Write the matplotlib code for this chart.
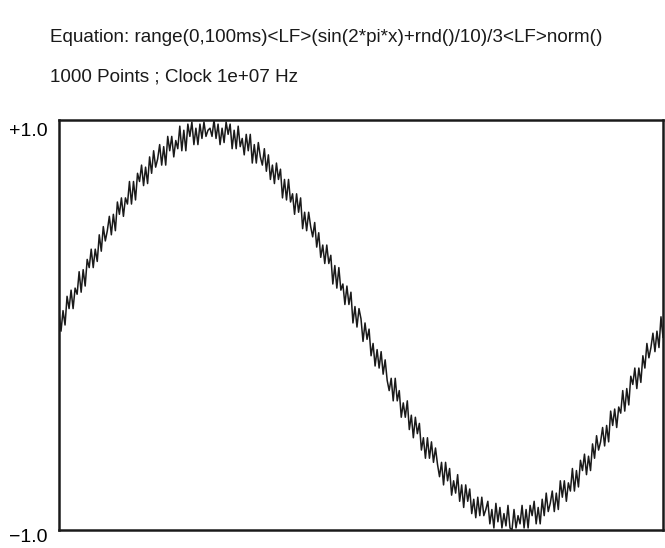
import numpy as np
import matplotlib
matplotlib.use("Agg")
import matplotlib.pyplot as plt
from matplotlib.transforms import ScaledTranslation

# text above the plot
equation = "Equation: range(0,100ms)<LF>(sin(2*pi*x)+rnd()/10)/3<LF>norm()"
info = "1000 Points ; Clock 1e+07 Hz"
ytick_vals = [-1.0, 1.0]
ytick_labels = ["\u22121.0", "+1.0"]

# waveform, one quarter of the period per list
quarter1 = [.06, -.03, .07, .00, .14, .08, .17, .08, .18, .15,
            .26, .16, .27, .19, .32, .28, .37, .28, .37, .31,
            .44, .36, .48, .41, .46, .53, .44, .54, .46, .60,
            .54, .62, .53, .62, .59, .70, .59, .70, .61, .74,
            .70, .78, .68, .77, .69, .82, .74, .85, .77, .81,
            .88, .78, .87, .78, .92, .85, .92, .82, .90, .86,
            .97, .85, .95, .85, .98, .92, .99, .88, .96, .88,
            .98, .91, .99, .92, .95]
quarter2 = [.96, .92, 1.00, .91, .98, .88, .96, .89, .99, .93,
            .98, .86, .95, .86, .97, .87, .91, .83, .93, .85,
            .93, .79, .88, .79, .89, .82, .78, .86, .75, .83,
            .71, .78, .69, .79, .71, .76, .62, .71, .61, .71,
            .60, .64, .54, .64, .55, .62, .47, .55, .46, .55,
            .48, .43, .50, .38, .45, .33, .39, .30, .39, .30,
            .34, .20, .29, .18, .28, .17, .20, .10, .19, .10,
            .16, .01, .09, -.01, .08]
quarter3 = [.03, -.08, .01, -.07, -.02, -.15, -.09, -.20, -.12, -.21,
            -.13, -.24, -.17, -.27, -.32, -.26, -.37, -.26, -.37, -.32,
            -.45, -.38, -.45, -.37, -.51, -.44, -.55, -.45, -.53, -.48,
            -.61, -.55, -.65, -.55, -.65, -.57, -.67, -.60, -.68, -.74,
            -.67, -.78, -.67, -.76, -.70, -.83, -.76, -.82, -.73, -.86,
            -.78, -.89, -.78, -.86, -.80, -.92, -.85, -.94, -.84, -.93,
            -.84, -.93, -.90, -.86, -.97, -.90, -.99, -.87, -.96, -.89,
            -.99, -.92, -.98, -.88, -.99]
quarter4 = [-1.00, -.90, -.99, -.93, -.97, -.88, -.99, -.90, -.99, -.88,
            -.93, -.86, -.97, -.89, -.97, -.85, -.93, -.82, -.91, -.87,
            -.81, -.91, -.82, -.90, -.76, -.84, -.76, -.86, -.77, -.81,
            -.70, -.81, -.71, -.79, -.66, -.71, -.63, -.73, -.64, -.71,
            -.58, -.65, -.54, -.61, -.57, -.50, -.59, -.49, -.57, -.42,
            -.49, -.41, -.50, -.40, -.43, -.32, -.42, -.31, -.39, -.25,
            -.29, -.21, -.31, -.21, -.28, -.15, -.21, -.09, -.16, -.11,
            -.04, -.13, -.03, -.11, .04, -.06]

signal = np.array(quarter1 + quarter2 + quarter3 + quarter4)
sample = np.arange(len(signal))

plt.rcParams["font.family"] = ["Liberation Sans", "DejaVu Sans"]

fig = plt.figure(figsize=(6.65, 5.48), dpi=100)
ax = fig.add_axes([59 / 665, 1 - 530 / 548, 604 / 665, 410 / 548])

ax.plot(sample, signal, color="#1a1a1a", lw=1.1)

ax.set_xlim(sample[0], sample[-1])
ax.set_ylim(-1, 1)
ax.set_xticks([])
ax.set_yticks(ytick_vals)
ax.set_yticklabels(ytick_labels, fontsize=14)
ax.tick_params(axis="y", length=0, pad=8)
lbl_lo, lbl_hi = ax.get_yticklabels()
lbl_lo.set_va("top")
lbl_lo.set_transform(lbl_lo.get_transform() + ScaledTranslation(0, 1 / 72, fig.dpi_scale_trans))
lbl_hi.set_va("top")
lbl_hi.set_transform(lbl_hi.get_transform() + ScaledTranslation(0, -2 / 72, fig.dpi_scale_trans))
for s in ax.spines.values():
    s.set_linewidth(1.8)
    s.set_color("#1a1a1a")

fig.text(50 / 665, 1 - 37 / 548, equation, fontsize=13.6, va="center", ha="left", color="#1a1a1a")
fig.text(50 / 665, 1 - 77 / 548, info, fontsize=13.6, va="center", ha="left", color="#1a1a1a")

fig.savefig("out.png", dpi=100)
